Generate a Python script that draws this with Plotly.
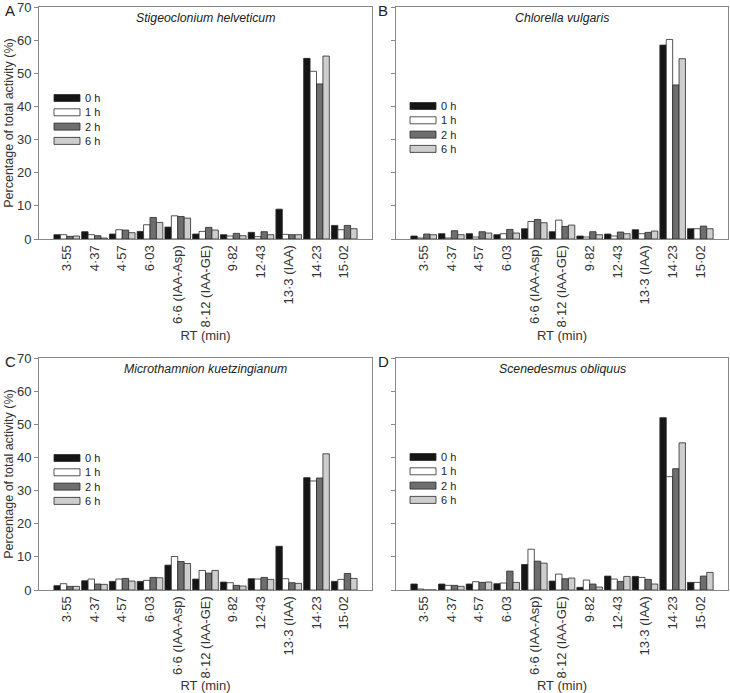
import plotly.graph_objects as go
from plotly.subplots import make_subplots

# retention time peaks (x categories)
rt_labels = ["3·55", "4·37", "4·57", "6·03", "6·6 (IAA-Asp)", "8·12 (IAA-GE)",
             "9·82", "12·43", "13·3 (IAA)", "14·23", "15·02"]
times = ["0 h", "1 h", "2 h", "6 h"]

# A - Stigeoclonium helveticum
stig_0h = [1.3, 2.2, 1.5, 2.3, 3.6, 1.5, 1.3, 2.0, 9.0, 54.5, 4.1]
stig_1h = [1.3, 1.3, 2.8, 4.3, 7.0, 2.3, 0.9, 0.7, 1.4, 50.6, 2.8]
stig_2h = [0.8, 1.0, 2.7, 6.5, 6.8, 3.5, 1.7, 2.2, 1.3, 46.8, 4.1]
stig_6h = [0.9, 0.3, 1.9, 5.0, 6.3, 2.7, 1.0, 1.3, 1.3, 55.2, 3.1]

# B - Chlorella vulgaris
chl_0h = [0.9, 1.6, 1.6, 1.3, 3.1, 2.2, 0.9, 1.5, 2.8, 58.5, 3.1]
chl_1h = [0.3, 0.3, 0.6, 1.6, 5.3, 5.7, 0.6, 0.9, 1.6, 60.2, 3.1]
chl_2h = [1.5, 2.5, 2.2, 2.9, 5.9, 3.8, 2.2, 2.1, 2.0, 46.5, 3.9]
chl_6h = [1.3, 1.3, 1.8, 1.8, 4.9, 4.2, 1.3, 1.6, 2.4, 54.4, 3.1]

# C - Microthamnion kuetzingianum
mic_0h = [1.3, 2.8, 2.6, 2.6, 7.5, 3.3, 2.4, 3.4, 13.2, 33.9, 2.6]
mic_1h = [1.9, 3.3, 3.3, 2.9, 10.1, 5.9, 2.2, 3.3, 3.4, 32.9, 3.2]
mic_2h = [1.1, 1.8, 3.5, 3.8, 8.6, 5.1, 1.4, 3.8, 2.2, 33.8, 5.0]
mic_6h = [1.1, 1.7, 2.7, 3.7, 8.0, 5.9, 1.2, 3.2, 2.0, 41.1, 3.5]

# D - Scenedesmus obliquus
sce_0h = [1.8, 1.8, 1.8, 1.9, 7.7, 2.7, 0.8, 4.2, 4.1, 52.0, 2.3]
sce_1h = [0.3, 1.4, 2.5, 2.1, 12.3, 4.8, 3.0, 3.3, 3.8, 34.2, 2.3]
sce_2h = [0.0, 1.4, 2.3, 5.7, 8.7, 3.4, 1.8, 2.6, 3.2, 36.6, 4.2]
sce_6h = [0.0, 1.1, 2.4, 2.3, 8.1, 3.6, 0.9, 4.1, 1.8, 44.4, 5.3]

panels = [
    ("A", "Stigeoclonium helveticum", [stig_0h, stig_1h, stig_2h, stig_6h]),
    ("B", "Chlorella vulgaris", [chl_0h, chl_1h, chl_2h, chl_6h]),
    ("C", "Microthamnion kuetzingianum", [mic_0h, mic_1h, mic_2h, mic_6h]),
    ("D", "Scenedesmus obliquus", [sce_0h, sce_1h, sce_2h, sce_6h]),
]
colors = ["#151515", "#ffffff", "#6e6e6e", "#cecece"]

W, H = 730, 693
# pixel boxes of the four plot areas (left, right, top, bottom)
boxes = [(39, 372, 7, 239), (396, 728, 7, 239), (39, 372, 358, 590), (396, 728, 358, 590)]
# legend: left edge of swatch, centre of first row (pixels)
legend_pos = [(54, 98), (410, 106), (54, 458), (410, 457)]
letter_x = [10, 383, 10, 383]
row_step = 14.3  # matches line height of an 11px annotation

fig = make_subplots(rows=2, cols=2)
font = "Liberation Sans, Arial, sans-serif"
edge = "#2a2a2a"

for i, (letter, species, series) in enumerate(panels):
    row, col = i // 2 + 1, i % 2 + 1
    for name, vals, c in zip(times, series, colors):
        fig.add_trace(go.Bar(
            x=rt_labels, y=vals, name=name, showlegend=False,
            marker=dict(color=c, line=dict(color=edge, width=0.8)),
        ), row=row, col=col)

    l, r, t, b = boxes[i]
    ax = "" if i == 0 else str(i + 1)
    fig.layout["xaxis" + ax].update(
        domain=[l / W, r / W], range=[-1, 11], type="category", automargin=False,
        tickangle=-90, tickfont=dict(size=13, color="#333", family=font),
        showline=True, linecolor="#888", mirror=True, ticks="",
        title=dict(text="RT (min)", font=dict(size=13, color="#333", family=font), standoff=1),
    )
    fig.layout["yaxis" + ax].update(
        domain=[1 - b / H, 1 - t / H], range=[0, 70], dtick=10, automargin=False,
        showline=True, linecolor="#888", mirror=True, ticks="outside", ticklen=4,
        tickcolor="#888", showgrid=False, zeroline=False, ticklabeloverflow="allow",
        showticklabels=(col == 1),
        tickfont=dict(size=13, color="#333", family=font),
    )
    if col == 1:
        fig.layout["yaxis" + ax].title = dict(
            text="Percentage of total activity (%)",
            font=dict(size=12.5, color="#333", family=font), standoff=0)

    # legend drawn as swatches + one multi-line label block, per panel
    lx, ly = legend_pos[i]
    for k, c in enumerate(colors):
        yc = ly + k * row_step
        fig.add_shape(type="rect", xref="paper", yref="paper",
                      x0=lx / W, x1=(lx + 26) / W,
                      y0=1 - (yc - 3.5) / H, y1=1 - (yc + 3.5) / H,
                      fillcolor=c, line=dict(color=edge, width=0.8))
    fig.add_annotation(text="<br>".join(times), xref="paper", yref="paper",
                       x=(lx + 29) / W, y=1 - (ly + 1.5 * row_step) / H,
                       xanchor="left", yanchor="middle", align="left",
                       showarrow=False, font=dict(size=11, color="#222", family=font))

    fig.add_annotation(text=f"<i>{species}</i>", xref=f"x{ax} domain", yref=f"y{ax} domain",
                       x=0.5, y=1 - 11 / (b - t), xanchor="center", yanchor="middle",
                       showarrow=False, font=dict(size=12.3, color="#222", family=font))
    fig.add_annotation(text=letter, xref="paper", yref="paper",
                       x=letter_x[i] / W, y=1 - (t + 3) / H, xanchor="center", yanchor="middle",
                       showarrow=False, font=dict(size=15, color="#222", family=font))

fig.update_layout(
    width=W, height=H, margin=dict(l=0, r=0, t=0, b=0),
    paper_bgcolor="white", plot_bgcolor="white",
    barmode="group", bargap=0.075, bargroupgap=0,
    font=dict(family=font),
)

# drop the browser's default 8px body margin so the figure fills the window
fig.write_html("out.html", config={"displayModeBar": False},
               post_script="document.body.style.margin='0';")
